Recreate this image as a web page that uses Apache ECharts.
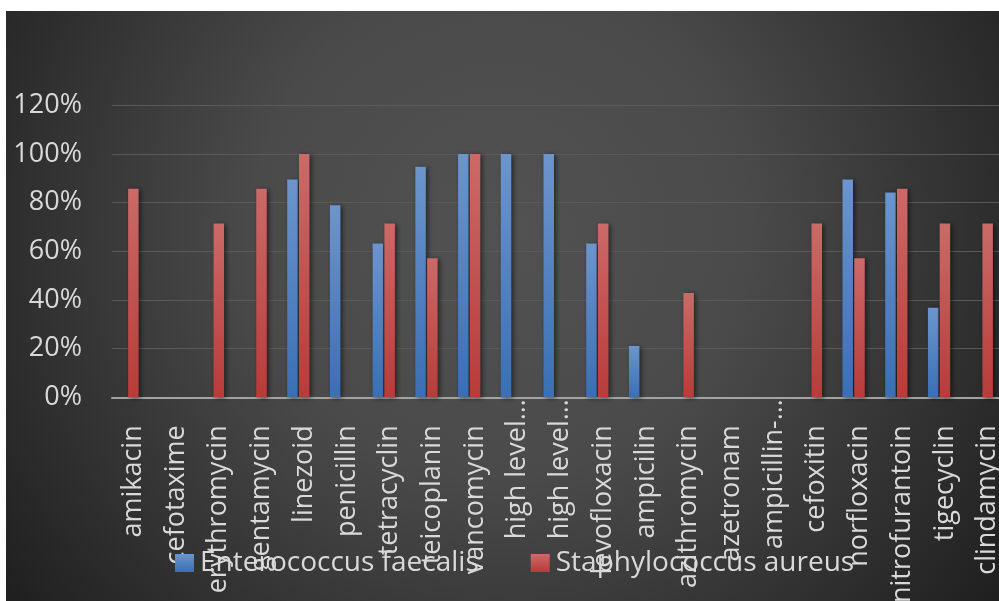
<!DOCTYPE html>
<html>
<head>
<meta charset="utf-8">
<title>Antibiotic susceptibility</title>
<script src="https://cdn.jsdelivr.net/npm/echarts@6/dist/echarts.min.js"></script>
<style>
  html, body { margin: 0; padding: 0; background: #ffffff; }
  #chart { width: 999px; height: 601px; }
</style>
</head>
<body>
<div id="chart"></div>
<script>
// Antibiotics tested (axis categories)
const categories = [
  'amikacin', 'cefotaxime', 'erythromycin', 'gentamycin', 'linezoid',
  'penicillin', 'tetracyclin', 'teicoplanin', 'vancomycin', 'high level…',
  'high level…', 'levofloxacin', 'ampicilin', 'azithromycin', 'azetronam',
  'ampicillin-…', 'cefoxitin', 'norfloxacin', 'nitrofurantoin', 'tigecyclin',
  'clindamycin'
];
// Labels that Excel cut short sit right against the axis
const truncatedLabels = ['high level…', 'ampicillin-…'];

// Percentages per organism
const enterococcus = [
  0, 0, 0, 0, 89.5,
  78.9, 63.2, 94.7, 100, 100,
  100, 63.2, 21.1, 0, 0,
  0, 0, 89.5, 84.2, 36.8,
  0
];
const staphylococcus = [
  85.7, 0, 71.4, 85.7, 100,
  0, 71.4, 57.1, 100, 0,
  0, 71.4, 0, 42.9, 0,
  0, 71.4, 57.1, 85.7, 71.4,
  71.4
];
const seriesNames = ['Enterococcus faecalis', 'Staphylococcus aureus'];

// Y axis ticks
const yMin = 0, yMax = 120, yStep = 20;

const textColor = '#d9d9d9';
const fontFamily = '"Open Sans", "Noto Sans", sans-serif';

const chart = echarts.init(document.getElementById('chart'), null, { renderer: 'canvas' });

function barGradient(top, bottom) {
  return new echarts.graphic.LinearGradient(0, 0, 0, 1, [
    { offset: 0, color: top },
    { offset: 1, color: bottom }
  ]);
}

const barShadow = {
  shadowBlur: 5,
  shadowColor: 'rgba(0,0,0,0.55)',
  shadowOffsetX: 2,
  shadowOffsetY: 1
};

const option = {
  animation: false,
  graphic: [{
    type: 'rect',
    z: -10,
    silent: true,
    shape: { x: 6, y: 11, width: 993, height: 590 },
    style: {
      fill: {
        type: 'radial',
        x: 500, y: 230, r: 620,
        global: true,
        colorStops: [
          { offset: 0, color: '#525252' },
          { offset: 0.4, color: '#4a4a4a' },
          { offset: 1, color: '#1f1f1f' }
        ]
      }
    }
  }],
  grid: {
    left: 112,
    top: 105.3,
    width: 897,
    height: 292,
    outerBoundsMode: 'none',
    containLabel: false
  },
  legend: {
    data: seriesNames,
    left: 170,
    top: 544,
    itemWidth: 19,
    itemHeight: 18,
    itemGap: 52,
    icon: 'rect',
    textStyle: {
      color: textColor,
      fontSize: 28,
      fontFamily: fontFamily,
      lineHeight: 28,
      padding: [0, 0, 0, 1]
    }
  },
  xAxis: {
    type: 'category',
    data: categories,
    boundaryGap: true,
    axisLine: { show: true, lineStyle: { color: '#a3a3a3', width: 2 } },
    axisTick: { show: false },
    splitLine: { show: false },
    axisLabel: {
      interval: 0,
      rotate: 90,
      margin: 2,
      color: textColor,
      fontFamily: fontFamily,
      fontSize: 27,
      formatter: function (v) {
        return truncatedLabels.indexOf(v) >= 0 ? '{t|' + v + '}' : '{n|' + v + '}';
      },
      rich: {
        n: { color: textColor, fontFamily: fontFamily, fontSize: 27, padding: [0, 26, 0, 0] },
        t: { color: textColor, fontFamily: fontFamily, fontSize: 27, padding: [0, 0, 0, 0] }
      }
    }
  },
  yAxis: {
    type: 'value',
    min: yMin,
    max: yMax,
    interval: yStep,
    axisLine: { show: false },
    axisTick: { show: false },
    splitLine: { show: true, lineStyle: { color: '#5a5a5a', width: 1.2 } },
    axisLabel: {
      margin: 30,
      color: textColor,
      fontFamily: fontFamily,
      fontSize: 27,
      formatter: '{value}%'
    }
  },
  series: [
    {
      name: seriesNames[0],
      type: 'bar',
      data: enterococcus,
      barWidth: 10.5,
      barGap: '12%',
      itemStyle: Object.assign({ color: barGradient('#6c95cd', '#3a6fb4') }, barShadow)
    },
    {
      name: seriesNames[1],
      type: 'bar',
      data: staphylococcus,
      barWidth: 10.5,
      barGap: '12%',
      itemStyle: Object.assign({ color: barGradient('#cb6a68', '#b83b39') }, barShadow)
    },
    {
      // empty third slot in each cluster, keeps the red bar on the tick
      name: 'spacer',
      type: 'bar',
      data: categories.map(function () { return null; }),
      barWidth: 10.5,
      barGap: '12%',
      silent: true
    }
  ]
};

chart.setOption(option);
</script>
</body>
</html>
